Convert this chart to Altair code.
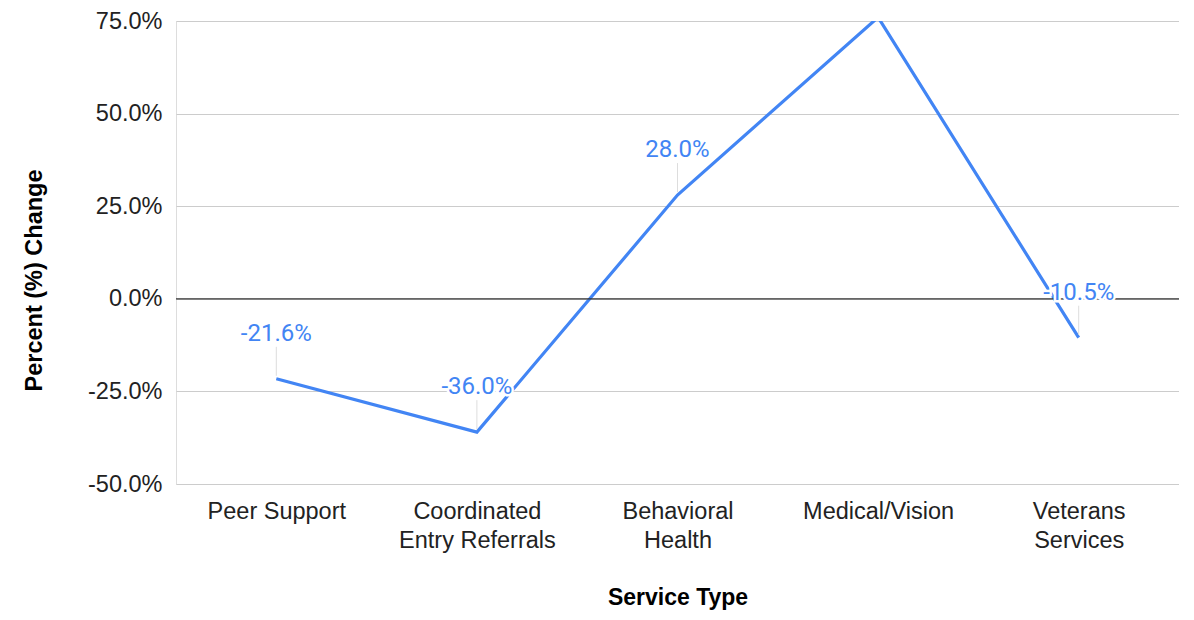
import altair as alt
import pandas as pd

categories = ["Peer Support", "Coordinated\nEntry Referrals", "Behavioral\nHealth", "Medical/Vision", "Veterans\nServices"]
pct_change = [-21.6, -36.0, 28.0, 76.0, -10.5]
label_text = ["-21.6%", "-36.0%", "28.0%", "", "-10.5%"]
y_ticks = [-50, -25, 0, 25, 50, 75]

df = pd.DataFrame({"cat": categories, "v": pct_change, "lab": label_text})
shown = df[df["lab"] != ""]

BLUE = "#4285F4"

x_enc = alt.X("cat:N", sort=categories, title="Service Type",
              scale=alt.Scale(type="point", padding=0.5),
              axis=alt.Axis(labelExpr="split(datum.label, '\\n')", labelAngle=0,
                            labelFont="Liberation Sans", labelFontSize=23.5, labelColor="#222",
                            labelLineHeight=29, labelPadding=15, ticks=False, domain=False,
                            titleFont="Liberation Sans", titleFontSize=23, titleFontWeight="bold",
                            titleColor="#000", titleY=113, titleBaseline="middle", grid=False))
y_scale = alt.Scale(domain=[-50, 75], nice=False, zero=False)
y_enc = alt.Y("v:Q", scale=y_scale, title="Percent (%) Change",
              axis=alt.Axis(values=y_ticks,
                            labelExpr="(datum.value < 0 ? '-' : '') + format(abs(datum.value), '.1f') + '%'",
                            labelFont="Liberation Sans", labelFontSize=23.5, labelColor="#222",
                            labelPadding=14, ticks=False, domain=False,
                            gridColor="#cccccc", gridWidth=1.2,
                            titleFont="Liberation Sans", titleFontSize=23.5, titleFontWeight="bold",
                            titleColor="#000", titleX=-142, titleY=259, titleAngle=-90,
                            titleAlign="center", titleBaseline="middle"))

zero = alt.Chart(pd.DataFrame({"z": [0]})).mark_rule(color="#333", strokeWidth=1.3).encode(
    y=alt.Y("z:Q", scale=y_scale))

line = alt.Chart(df).mark_line(color=BLUE, strokeWidth=3.2, clip=True).encode(
    x=x_enc, y=y_enc)

leader = alt.Chart(shown).mark_rule(color="#dddddd", strokeWidth=1, yOffset=-3, y2Offset=-32).encode(
    x=alt.X("cat:N", sort=categories), y=alt.Y("v:Q", scale=y_scale), y2="v:Q")

halo = alt.Chart(shown).mark_text(font="Roboto", fontSize=24, dy=-45, baseline="middle",
                                  color="white", stroke="white", strokeWidth=5).encode(
    x=alt.X("cat:N", sort=categories), y=alt.Y("v:Q", scale=y_scale), text="lab:N")
txt = alt.Chart(shown).mark_text(font="Roboto", fontSize=24, dy=-45, baseline="middle",
                                 color=BLUE).encode(
    x=alt.X("cat:N", sort=categories), y=alt.Y("v:Q", scale=y_scale), text="lab:N")

chart = alt.layer(line, zero, leader, halo, txt).properties(
    width=1003, height=463,
    autosize=alt.AutoSizeParams(type="none"),
    padding={"left": 168, "top": 13, "right": 0, "bottom": 128},
).configure_view(stroke=None).configure(background="white")

chart.save("out.html", embed_options={"renderer": "svg", "actions": False})
